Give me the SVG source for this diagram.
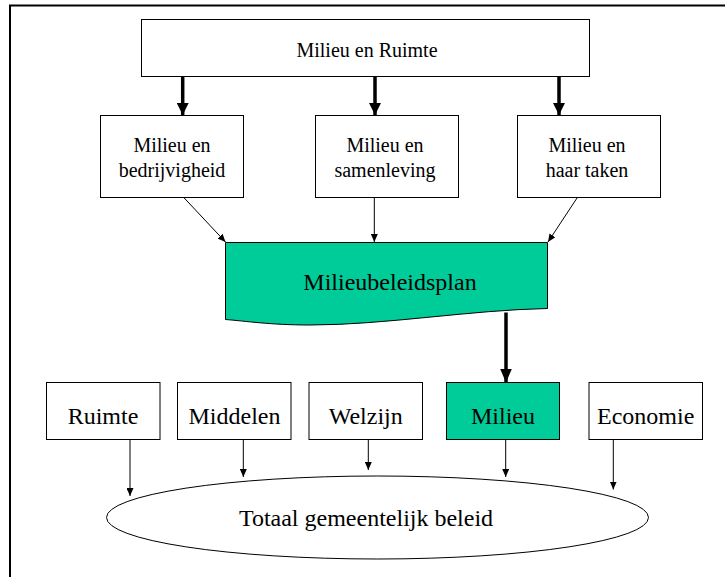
<svg xmlns="http://www.w3.org/2000/svg" width="725" height="577" viewBox="0 0 725 577">
<defs>
<style>
.box{fill:#ffffff;stroke:#000000;stroke-width:1}
.green{fill:#00CC99;stroke:#000000;stroke-width:1}
.t20{font-family:"Liberation Serif","Times New Roman",serif;font-size:20px;fill:#000;text-anchor:middle}
.t24{font-family:"Liberation Serif","Times New Roman",serif;font-size:24px;fill:#000;text-anchor:middle}
.thick{stroke:#000;stroke-width:3.5;fill:none}
.thin{stroke:#000;stroke-width:1;fill:none}
</style>
<marker id="bigHead" markerUnits="userSpaceOnUse" viewBox="0 0 12 12" refX="12" refY="6" markerWidth="12" markerHeight="12" orient="auto">
<path d="M0,0 L12,6 L0,12 Z" fill="#000"/>
</marker>
<marker id="bigHead2" markerUnits="userSpaceOnUse" viewBox="0 0 14 12" refX="14" refY="6" markerWidth="14" markerHeight="12" orient="auto">
<path d="M0,0 L14,6 L0,12 Z" fill="#000"/>
</marker>
<marker id="smallHead" markerUnits="userSpaceOnUse" viewBox="0 0 8 7" refX="8" refY="3.5" markerWidth="8" markerHeight="7" orient="auto">
<path d="M0,0 L8,3.5 L0,7 Z" fill="#000"/>
</marker>
</defs>
<rect width="725" height="577" fill="#ffffff"/>
<path id="frame" d="M10,577 V5.5 H725" fill="none" stroke="#000" stroke-width="2"/>

<g id="connectors">
<line class="thick" x1="182.7" y1="76.5" x2="182.7" y2="115" marker-end="url(#bigHead)"/>
<line class="thick" x1="375" y1="76.5" x2="375" y2="115" marker-end="url(#bigHead)"/>
<line class="thick" x1="559" y1="76.5" x2="559" y2="115" marker-end="url(#bigHead)"/>
<line class="thin" x1="183.3" y1="197" x2="225.5" y2="242" marker-end="url(#smallHead)"/>
<line class="thin" x1="374.3" y1="197" x2="374.3" y2="242" marker-end="url(#smallHead)"/>
<line class="thin" x1="577.7" y1="197" x2="548" y2="242" marker-end="url(#smallHead)"/>
<line class="thick" x1="506" y1="312.5" x2="506" y2="382.5" marker-end="url(#bigHead2)"/>
<line class="thin" x1="130" y1="439.5" x2="130" y2="496" marker-end="url(#smallHead)"/>
<line class="thin" x1="243.3" y1="439.5" x2="243.3" y2="477" marker-end="url(#smallHead)"/>
<line class="thin" x1="368.3" y1="439.5" x2="368.3" y2="470" marker-end="url(#smallHead)"/>
<line class="thin" x1="505.7" y1="439.5" x2="505.7" y2="477" marker-end="url(#smallHead)"/>
<line class="thin" x1="613.3" y1="439.5" x2="613.3" y2="489.5" marker-end="url(#smallHead)"/>
</g>

<g id="milieu-en-ruimte">
<rect class="box" x="141.5" y="19.5" width="448" height="57"/>
<text class="t20" x="367" y="57">Milieu en Ruimte</text>
</g>

<g id="milieu-bedrijvigheid">
<rect class="box" x="100.5" y="115.5" width="143" height="82"/>
<text class="t20" x="172" y="152">Milieu en</text>
<text class="t20" x="172" y="177">bedrijvigheid</text>
</g>

<g id="milieu-samenleving">
<rect class="box" x="315.5" y="115.5" width="143" height="82"/>
<text class="t20" x="385" y="152">Milieu en</text>
<text class="t20" x="385" y="177">samenleving</text>
</g>

<g id="milieu-taken">
<rect class="box" x="517.5" y="115.5" width="143" height="82"/>
<text class="t20" x="587" y="152">Milieu en</text>
<text class="t20" x="587" y="177">haar taken</text>
</g>

<g id="milieubeleidsplan">
<path class="green" d="M225.5,242.5 H547.5 V308.5 C470,310 385,325 310,325 C270,325 245,321 225.5,319.5 Z"/>
<text class="t24" x="390" y="290">Milieubeleidsplan</text>
</g>

<g id="ruimte">
<rect class="box" x="46.5" y="382.5" width="113.5" height="57"/>
<text class="t24" x="103" y="424">Ruimte</text>
</g>

<g id="middelen">
<rect class="box" x="177.5" y="382.5" width="113.5" height="57"/>
<text class="t24" x="234.5" y="424">Middelen</text>
</g>

<g id="welzijn">
<rect class="box" x="309" y="382.5" width="113.5" height="57"/>
<text class="t24" x="365.7" y="424">Welzijn</text>
</g>

<g id="milieu">
<rect class="green" x="446.5" y="382.5" width="113" height="57"/>
<text class="t24" x="503" y="424">Milieu</text>
</g>

<g id="economie">
<rect class="box" x="589" y="382.5" width="113.5" height="57"/>
<text class="t24" x="645.7" y="424">Economie</text>
</g>

<g id="totaal">
<ellipse cx="377.5" cy="517.5" rx="271" ry="41.5" fill="#ffffff" stroke="#000" stroke-width="1"/>
<text class="t24" x="366" y="526">Totaal gemeentelijk beleid</text>
</g>
</svg>
